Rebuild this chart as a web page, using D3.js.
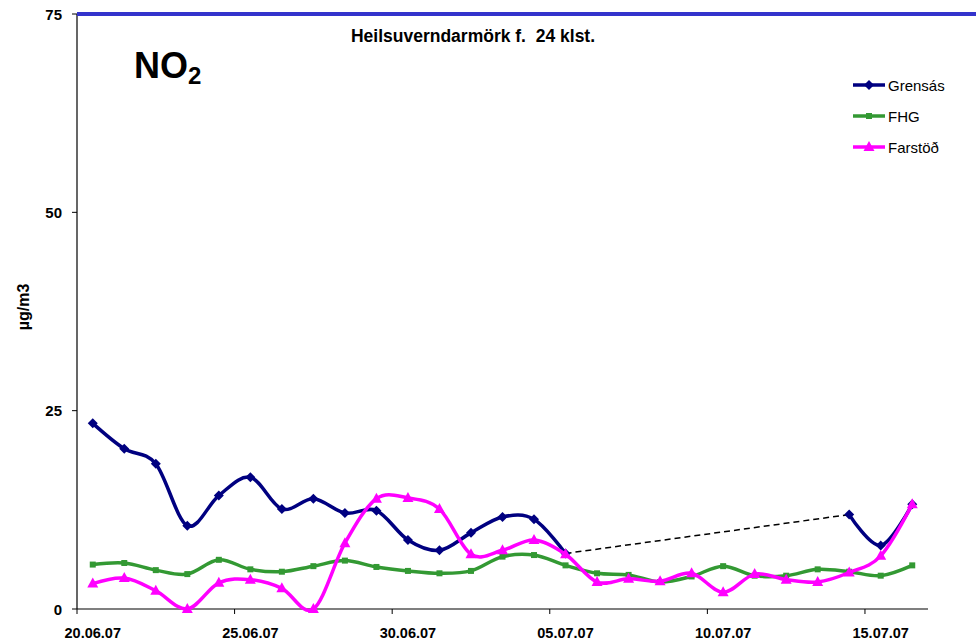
<!DOCTYPE html>
<html>
<head>
<meta charset="utf-8">
<script src="https://cdn.jsdelivr.net/npm/d3@7"></script>
<style>
  body { margin: 0; background: #fff; }
  svg { font-family: Arial, "Liberation Sans", sans-serif; }
</style>
</head>
<body>
<svg width="976" height="641"></svg>
<script>
// days 20.06.07 .. 16.07.07
var days = ["20.06.07","21.06.07","22.06.07","23.06.07","24.06.07","25.06.07","26.06.07",
  "27.06.07","28.06.07","29.06.07","30.06.07","01.07.07","02.07.07","03.07.07","04.07.07",
  "05.07.07","06.07.07","07.07.07","08.07.07","09.07.07","10.07.07","11.07.07","12.07.07",
  "13.07.07","14.07.07","15.07.07","16.07.07"];
var tickLabels = ["20.06.07","25.06.07","30.06.07","05.07.07","10.07.07","15.07.07"];
var yTicks = [0, 25, 50, 75];
var limit = 75;

var grensas = [23.4,20.2,18.3,10.5,14.3,16.6,12.6,13.9,12.1,12.4,8.7,7.4,9.6,11.6,11.3,7.0,
  null,null,null,null,null,null,null,null,11.9,8.0,13.2];
var fhg = [5.6,5.8,4.9,4.4,6.2,5.0,4.7,5.4,6.1,5.3,4.8,4.5,4.8,6.6,6.8,5.5,4.5,4.3,3.4,
  4.1,5.4,4.2,4.2,5.0,4.7,4.2,5.5];
var farstod = [3.2,3.9,2.3,0,3.3,3.7,2.6,0,8.3,13.9,14.0,12.6,6.9,7.4,8.7,6.9,3.4,3.8,3.5,
  4.5,2.1,4.4,3.7,3.4,4.6,6.7,13.2];

var series = [
  {name: "Grensás", values: grensas, color: "#000080", marker: "diamond"},
  {name: "FHG", values: fhg, color: "#339933", marker: "square"},
  {name: "Farstöð", values: farstod, color: "#ff00ff", marker: "triangle"}
];

(function(){
var svg = d3.select("svg");
var mLeft = 77, mRight = 928, mTop = 14, mBottom = 609;

var x = d3.scaleBand().domain(days).range([mLeft, mRight]);
var y = d3.scaleLinear().domain([0, 75]).range([mBottom, mTop]);
var cx = function(i){ return x(days[i]) + x.bandwidth()/2; };

// axes
svg.append("line").attr("x1", mLeft).attr("x2", mLeft).attr("y1", mTop).attr("y2", mBottom)
  .attr("stroke", "#000").attr("stroke-width", 1.2);
svg.append("line").attr("x1", mLeft).attr("x2", mRight).attr("y1", mBottom).attr("y2", mBottom)
  .attr("stroke", "#000").attr("stroke-width", 1.2);

yTicks.forEach(function(t){
  svg.append("line").attr("x1", mLeft - 5).attr("x2", mLeft).attr("y1", y(t)).attr("y2", y(t))
    .attr("stroke", "#000");
  svg.append("text").attr("x", 62).attr("y", y(t) + 5.5).attr("text-anchor", "end")
    .attr("font-size", 15).attr("font-weight", "bold").text(t);
});

tickLabels.forEach(function(d){
  var tx = x(d);
  svg.append("line").attr("x1", tx).attr("x2", tx).attr("y1", mBottom).attr("y2", mBottom + 5)
    .attr("stroke", "#000");
  svg.append("text").attr("x", tx + x.bandwidth()/2).attr("y", 638).attr("text-anchor", "middle")
    .attr("font-size", 14.5).attr("font-weight", "bold").text(d);
});

svg.append("text").attr("transform", "translate(29,307) rotate(-90)")
  .attr("text-anchor", "middle").attr("font-size", 16).attr("font-weight", "bold").text("µg/m3");

// limit line
svg.append("line").attr("x1", mLeft).attr("x2", 976).attr("y1", y(limit)).attr("y2", y(limit))
  .attr("stroke", "#3333cc").attr("stroke-width", 4);

// titles
svg.append("text").attr("x", 473).attr("y", 42).attr("text-anchor", "middle")
  .attr("font-size", 17.5).attr("font-weight", "bold").style("white-space", "pre")
  .text("Heilsuverndarmörk f.  24 klst.");
var no2 = svg.append("text").attr("x", 134).attr("y", 78).attr("font-size", 36).attr("font-weight", "bold");
no2.append("tspan").text("NO");
no2.append("tspan").attr("font-size", 24).attr("dy", 6).text("2");

// dashed gap line for Grensás
svg.append("line").attr("x1", cx(15)).attr("y1", y(grensas[15]))
  .attr("x2", cx(24)).attr("y2", y(grensas[24]))
  .attr("stroke", "#000").attr("stroke-width", 1.5).attr("stroke-dasharray", "6,4");

var line = d3.line()
  .defined(function(d){ return d != null; })
  .x(function(d, i){ return cx(i); })
  .y(function(d){ return y(d); })
  .curve(d3.curveCardinal.tension(0));

function markerPath(type, px, py){
  if (type === "diamond") return "M" + px + "," + (py-5) + "L" + (px+5) + "," + py + "L" + px + "," + (py+5) + "L" + (px-5) + "," + py + "Z";
  if (type === "square") return "M" + (px-3) + "," + (py-3) + "h6v6h-6Z";
  return "M" + px + "," + (py-6) + "L" + (px+5.5) + "," + (py+4) + "L" + (px-5.5) + "," + (py+4) + "Z";
}

series.forEach(function(s){
  svg.append("path").attr("d", line(s.values)).attr("fill", "none")
    .attr("stroke", s.color).attr("stroke-width", 3.5);
  s.values.forEach(function(v, i){
    if (v == null) return;
    svg.append("path").attr("d", markerPath(s.marker, cx(i), y(v))).attr("fill", s.color);
  });
});

// legend
var ly = [85, 116, 147];
series.forEach(function(s, k){
  svg.append("line").attr("x1", 853).attr("x2", 885).attr("y1", ly[k]).attr("y2", ly[k])
    .attr("stroke", s.color).attr("stroke-width", 3.5);
  svg.append("path").attr("d", markerPath(s.marker, 869, ly[k])).attr("fill", s.color);
  svg.append("text").attr("x", 888).attr("y", ly[k] + 5.5).attr("font-size", 15).text(s.name);
});
})();
</script>
</body>
</html>
